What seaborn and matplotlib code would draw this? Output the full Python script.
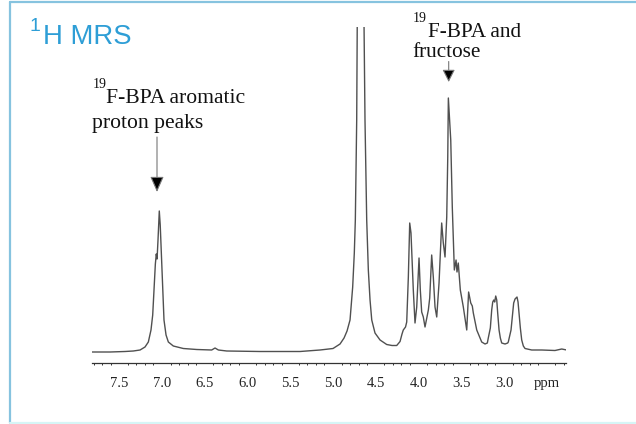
import numpy as np
import pandas as pd
import matplotlib
matplotlib.use("Agg")
import matplotlib.pyplot as plt
from matplotlib.lines import Line2D
from matplotlib.ticker import MultipleLocator
import seaborn as sns

# ---- data ----
ppm = [7.819, 7.608, 7.433, 7.336, 7.257, 7.199, 7.160, 7.129, 7.109, 7.094,
       7.078, 7.067, 7.058, 7.047, 7.032, 7.021, 7.012, 6.992, 6.977, 6.953,
       6.926, 6.868, 6.751, 6.594, 6.419, 6.380, 6.341, 6.243, 5.854, 5.386,
       5.152, 5.000, 4.918, 4.871, 4.836, 4.801, 4.770, 4.751, 4.739, 4.723,
       4.716, 4.676, 4.637, 4.626, 4.606, 4.587, 4.567, 4.547, 4.509, 4.450,
       4.372, 4.310, 4.255, 4.216, 4.193, 4.178, 4.152, 4.138, 4.119, 4.103,
       4.088, 4.061, 4.041, 4.021, 3.994, 3.979, 3.963, 3.944, 3.924, 3.885,
       3.869, 3.846, 3.827, 3.807, 3.787, 3.760, 3.729, 3.710, 3.690, 3.670,
       3.658, 3.651, 3.623, 3.605, 3.588, 3.581, 3.561, 3.550, 3.535, 3.511,
       3.476, 3.436, 3.414, 3.389, 3.371, 3.359, 3.319, 3.261, 3.222, 3.195,
       3.184, 3.160, 3.144, 3.132, 3.120, 3.109, 3.097, 3.085, 3.074, 3.058,
       3.043, 3.027, 2.988, 2.957, 2.950, 2.918, 2.903, 2.887, 2.871, 2.860,
       2.848, 2.836, 2.825, 2.809, 2.793, 2.774, 2.754, 2.676, 2.559, 2.404,
       2.325, 2.267]
intensity = [0, 0, 0.5, 1, 2, 5, 10, 22, 37, 62,
             88, 98, 93, 112, 141, 127, 107, 62, 32, 17,
             10, 6, 3.5, 2.5, 2, 4, 2, 1, 0.5, 0.5,
             2, 3.5, 8, 14, 21, 32, 65, 99, 132, 232,
             325, 1500, 325, 232, 132, 82, 52, 32, 19, 12,
             7.5, 6.5, 6.5, 10.5, 18, 22, 25, 30, 75, 129,
             119, 62, 29, 45, 94, 62, 40, 35, 25, 42,
             54, 97, 75, 45, 35, 69, 129, 109, 95, 135,
             195, 254, 212, 145, 102, 82, 92, 80, 89, 62,
             45, 22, 60, 49, 46, 39, 22, 10, 8, 9,
             14, 24, 42, 50, 52, 50, 56, 52, 39, 22,
             14, 9, 8, 9, 10, 22, 35, 49, 53, 54,
             55, 50, 39, 24, 12, 6, 3.5, 2, 2, 1.5,
             3, 2]

tick_values = [7.5, 7.0, 6.5, 6.0, 5.5, 5.0, 4.5, 4.0, 3.5, 3.0, 2.5]
tick_labels = ["7.5", "7.0", "6.5", "6.0", "5.5", "5.0", "4.5", "4.0", "3.5", "3.0", "ppm"]

title_sup = "1"
title_main = "H MRS"
ann1_sup, ann1_line1, ann1_line2 = "19", "F-BPA aromatic", "proton peaks"
ann2_sup, ann2_line1, ann2_line2 = "19", "F-BPA and", "fructose"

df = pd.DataFrame({"ppm": ppm, "intensity": intensity})

sns.set_style("white")
plt.rcParams["font.family"] = ["Liberation Serif", "DejaVu Serif"]

W, H = 636, 424
fig = plt.figure(figsize=(W / 100, H / 100), dpi=100)
fig.patch.set_facecolor("white")


def fx(x):
    return x / W


def fy(y):
    return 1 - y / H


ax = fig.add_axes([fx(92), fy(362.5), (566 - 92) / W, (362.5 - 27) / H])
sns.lineplot(data=df, x="ppm", y="intensity", ax=ax, estimator=None, sort=False,
             color="#505050", linewidth=1.0)
ax.set_xlim(7.819, 2.275)
ax.set_ylim(-10.5, 325)
ax.set_xlabel("")
ax.set_ylabel("")
ax.set_yticks([])
for s in ["left", "right", "top"]:
    ax.spines[s].set_visible(False)
ax.spines["bottom"].set_color("#333333")
ax.spines["bottom"].set_linewidth(0.9)
ax.set_xticks(tick_values)
ax.set_xticklabels(tick_labels)
ax.xaxis.set_minor_locator(MultipleLocator(0.1))
ax.tick_params(axis="x", which="major", direction="out", length=3.2, width=0.8,
               color="#333333", pad=7.2, labelsize=10.5, labelcolor="#222222")
ax.tick_params(axis="x", which="minor", direction="out", length=1.6, width=0.7,
               color="#333333", bottom=True)
ax.set_facecolor("none")

# frame around the panel
fig.add_artist(Line2D([fx(10), fx(10)], [fy(423), fy(2)], transform=fig.transFigure,
                      color="#86C3DF", linewidth=1.6))
fig.add_artist(Line2D([fx(10), fx(636)], [fy(2), fy(2)], transform=fig.transFigure,
                      color="#86C3DF", linewidth=1.6))
fig.add_artist(Line2D([fx(10), fx(636)], [fy(422.5), fy(422.5)], transform=fig.transFigure,
                      color="#D6F5F6", linewidth=1.6))

# title
blue = "#2E9ED6"
fig.text(fx(29.5), fy(30.7), title_sup, fontsize=14, color=blue, va="baseline",
         family=["Liberation Sans", "DejaVu Sans"])
fig.text(fx(43), fy(44), title_main, fontsize=19.8, color=blue, va="baseline",
         family=["Liberation Sans", "DejaVu Sans"])

# annotation 1
fig.text(fx(92.5), fy(87.5), ann1_sup, fontsize=10, color="#111111", va="baseline")
fig.text(fx(106.5), fy(103.3), ann1_line1, fontsize=15.6, color="#111111", va="baseline")
fig.text(fx(92.5), fy(127.7), ann1_line2, fontsize=15.6, color="#111111", va="baseline")
ax.annotate("", xy=(157, H - 192), xycoords="figure pixels",
            xytext=(157, H - 137), textcoords="figure pixels",
            arrowprops=dict(arrowstyle="-|>,head_length=0.95,head_width=0.42",
                            ec="#777777", fc="black", lw=0.8, shrinkA=0, shrinkB=0))

# annotation 2
fig.text(fx(412.5), fy(22), ann2_sup, fontsize=10, color="#111111", va="baseline")
fig.text(fx(427.5), fy(37.3), ann2_line1, fontsize=15.3, color="#111111", va="baseline")
fig.text(fx(412.5), fy(57.3), ann2_line2, fontsize=15.3, color="#111111", va="baseline")
ax.annotate("", xy=(448.7, H - 82), xycoords="figure pixels",
            xytext=(448.7, H - 61.5), textcoords="figure pixels",
            arrowprops=dict(arrowstyle="-|>,head_length=0.75,head_width=0.38",
                            ec="#777777", fc="black", lw=0.8, shrinkA=0, shrinkB=0))

fig.savefig("out.png", dpi=100)
